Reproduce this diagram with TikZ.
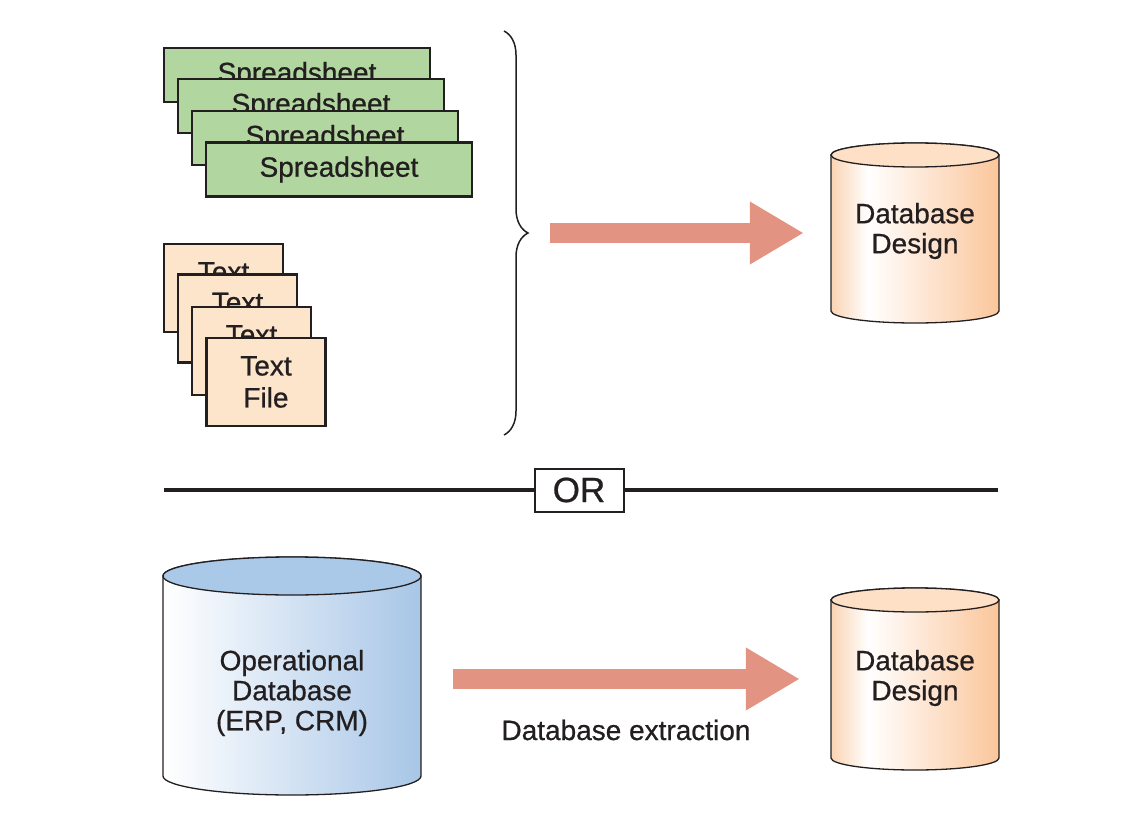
\documentclass[tikz,border=0pt]{standalone}
\usepackage{fontspec}
\setmainfont{Liberation Sans}[FakeBold=0.7]
\usetikzlibrary{arrows.meta,decorations.pathreplacing}

\definecolor{inkc}{HTML}{231F20}
\definecolor{sheetc}{HTML}{B2D69F}
\definecolor{filec}{HTML}{FDE5CC}
\definecolor{arrowc}{HTML}{E29381}
\definecolor{peachL}{HTML}{FAD3B2}
\definecolor{peachR}{HTML}{FBC69B}
\definecolor{peachT}{HTML}{FDE0C6}
\definecolor{blueR}{HTML}{A8C6E7}
\definecolor{blueT}{HTML}{AAC8E8}

\pgfdeclarehorizontalshading{peachdrum}{100bp}{color(0bp)=(peachL); color(25bp)=(peachL);
  color(36bp)=(white); color(75bp)=(peachR); color(100bp)=(peachR)}

% #1 name, #2 centre, #3 x radius, #4 y radius, #5 half height, #6 look
\newcommand{\drum}[6]{%
  \begin{scope}[shift={(#2)}]
    \shade[drum line, #6] (-#3,#5) -- (-#3,-#5)
      arc[start angle=180, end angle=360, x radius=#3, y radius=#4]
      -- (#3,#5) arc[start angle=0, end angle=180, x radius=#3, y radius=#4] -- cycle;
    \filldraw[drum line, #6 top] (0,#5) ellipse[x radius=#3, y radius=#4];
    \node[inner sep=0pt, minimum width=2*#3, minimum height=2*#5] (#1) at (0,0) {};
  \end{scope}}

\begin{document}
\begin{tikzpicture}[x=1pt, y=1pt, text=inkc,
    every node/.style={font=\fontsize{28}{30}\selectfont},
    sheet/.style={draw=inkc, line width=2.4pt, fill=sheetc, inner sep=0pt,
      minimum width=266, minimum height=54},
    textfile/.style={draw=inkc, line width=2.4pt, fill=filec, inner sep=0pt, align=center,
      minimum width=119, minimum height=88, font=\fontsize{28}{32}\selectfont},
    label/.style={align=center, inner sep=0pt},
    drum line/.style={draw=inkc, line width=1.3pt},
    peach/.style={shading=peachdrum},
    peach top/.style={fill=peachT},
    blue/.style={left color=white, right color=blueR},
    blue top/.style={fill=blueT},
    fatarrow/.style={draw=arrowc, line width=20pt, -{Triangle[length=54pt, width=59pt]}},
    rule/.style={draw=inkc, line width=3.4pt},
    orbox/.style={draw=inkc, line width=2pt, fill=white, minimum width=89, minimum height=43,
      inner sep=0pt, font=\fontsize{35}{35}\selectfont}]
  \useasboundingbox (0,0) rectangle (1130,-832);

  % flat files
  \node[sheet] (sheet1) at (297,-75) {Spreadsheet};
  \node[sheet] (sheet2) at (311,-106) {Spreadsheet};
  \node[sheet] (sheet3) at (325,-138) {Spreadsheet};
  \node[sheet] (sheet4) at (339,-169.5) {Spreadsheet};

  \node[textfile] (file1) at (223.5,-288) {Text\\File};
  \node[textfile] (file2) at (237.5,-318.5) {Text\\File};
  \node[textfile] (file3) at (251.5,-351) {Text\\File};
  \node[textfile] (file4) at (266,-382) {Text\\File};

  \draw[drum line, line width=1.5pt, decorate, decoration={brace, amplitude=24pt}]
    (504,-31) -- (504,-435);
  \coordinate (bracetip) at (528,-233);

  \drum{design1}{915,-233}{84}{12}{78}{peach}
  \node[label] (design1text) at (915,-231) {Database\\Design};
  \draw[fatarrow, shorten <=22pt, shorten >=27pt] (bracetip) -- (design1.west);

  % divider
  \node[orbox] (or) at (579,-490) {OR};
  \coordinate (ruleL) at (164,-490);
  \coordinate (ruleR) at (998,-490);
  \draw[rule] (ruleL) -- (or);
  \draw[rule] (or) -- (ruleR);

  % extraction
  \drum{opdb}{292,-676}{129}{19}{100}{blue}
  \node[label] (opdbtext) at (292,-693) {Operational\\Database\\(ERP, CRM)};

  \drum{design2}{915,-679}{84}{12}{79}{peach}
  \node[label] (design2text) at (915,-678) {Database\\Design};

  \draw[fatarrow, shorten <=32pt, shorten >=31pt] (opdb.east |- design2.west) -- (design2.west)
    node[midway, yshift=-51pt] (extract) {Database extraction};
\end{tikzpicture}
\end{document}
